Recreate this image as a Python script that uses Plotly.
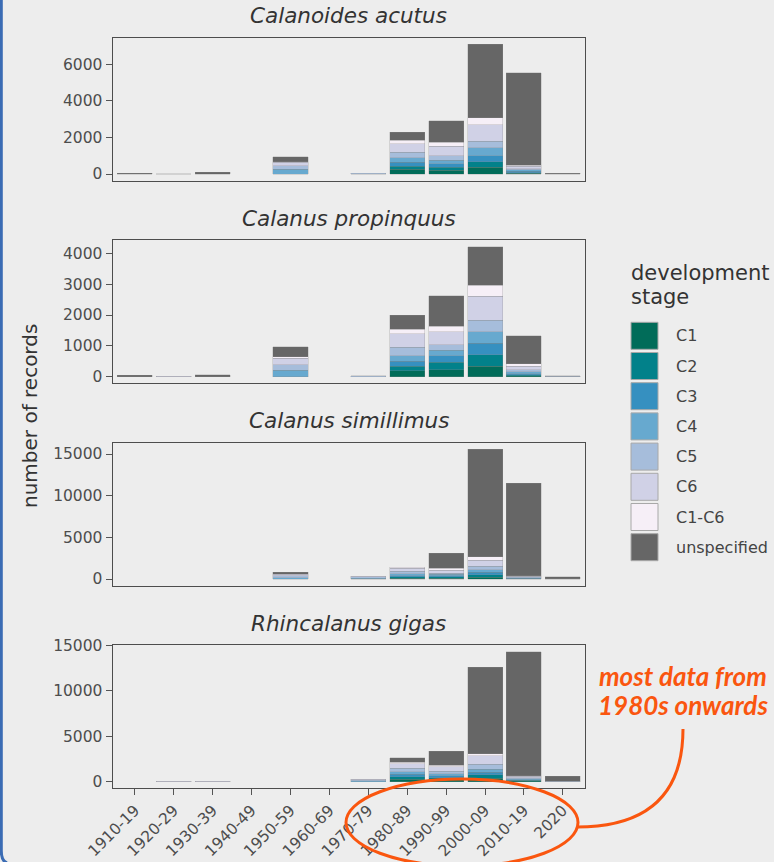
import plotly.graph_objects as go

# ---------------------------------------------------------------
# Records of four Southern Ocean copepods, by decade and stage
# ---------------------------------------------------------------
decades = ["1910-19", "1920-29", "1930-39", "1940-49", "1950-59", "1960-69",
           "1970-79", "1980-89", "1990-99", "2000-09", "2010-19", "2020"]

stages = ["C1", "C2", "C3", "C4", "C5", "C6", "C1-C6", "unspecified"]
stage_colors = ["#016c59", "#02818a", "#3690c0", "#67a9cf",
                "#a6bddb", "#d0d1e6", "#f6eff7", "#666666"]

species = ["Calanoides acutus", "Calanus propinquus",
           "Calanus simillimus", "Rhincalanus gigas"]

# Calanoides acutus
acutus_c1 = [0, 0, 0, 0, 0, 0, 0, 252, 216, 378, 30, 0]
acutus_c2 = [0, 0, 0, 0, 0, 0, 0, 180, 162, 288, 30, 0]
acutus_c3 = [0, 0, 0, 0, 0, 0, 0, 216, 180, 342, 80, 0]
acutus_c4 = [0, 0, 0, 0, 260, 0, 0, 234, 198, 414, 80, 20]
acutus_c5 = [0, 0, 0, 0, 190, 0, 40, 306, 252, 360, 60, 0]
acutus_c6 = [0, 15, 0, 0, 180, 0, 0, 470, 505, 901, 150, 0]
acutus_c1c6 = [0, 0, 0, 0, 40, 0, 0, 180, 216, 396, 50, 0]
acutus_unspec = [40, 0, 90, 0, 280, 0, 0, 450, 1171, 4018, 5045, 20]

# Calanus propinquus
propinquus_c1 = [0, 0, 0, 0, 0, 0, 0, 183, 226, 333, 32, 0]
propinquus_c2 = [0, 0, 0, 0, 0, 0, 0, 150, 237, 376, 22, 0]
propinquus_c3 = [0, 0, 0, 0, 0, 0, 0, 161, 215, 370, 43, 0]
propinquus_c4 = [0, 0, 0, 0, 200, 0, 0, 183, 172, 380, 54, 0]
propinquus_c5 = [0, 0, 0, 0, 180, 0, 20, 280, 183, 376, 75, 10]
propinquus_c6 = [0, 15, 0, 0, 220, 0, 0, 430, 430, 780, 108, 0]
propinquus_c1c6 = [0, 0, 0, 0, 40, 0, 0, 150, 172, 350, 75, 0]
propinquus_unspec = [40, 0, 60, 0, 330, 0, 0, 462, 989, 1265, 925, 10]

# Calanus simillimus
simillimus_c1 = [0, 0, 0, 0, 0, 0, 0, 119, 119, 238, 20, 0]
simillimus_c2 = [0, 0, 0, 0, 0, 0, 0, 159, 159, 278, 20, 0]
simillimus_c3 = [0, 0, 0, 0, 0, 0, 0, 119, 119, 278, 40, 0]
simillimus_c4 = [0, 0, 0, 0, 180, 0, 120, 238, 159, 318, 80, 0]
simillimus_c5 = [0, 0, 0, 0, 200, 0, 150, 278, 159, 397, 100, 20]
simillimus_c6 = [0, 0, 0, 0, 200, 0, 90, 357, 357, 715, 100, 0]
simillimus_c1c6 = [0, 0, 0, 0, 0, 0, 0, 159, 199, 476, 40, 0]
simillimus_unspec = [0, 0, 0, 0, 250, 0, 0, 0, 1826, 12903, 11116, 230]

# Rhincalanus gigas
gigas_c1 = [0, 0, 0, 0, 0, 0, 0, 254, 218, 363, 63, 0]
gigas_c2 = [0, 0, 0, 0, 0, 0, 0, 254, 218, 363, 60, 0]
gigas_c3 = [0, 0, 0, 0, 0, 0, 0, 290, 218, 290, 80, 0]
gigas_c4 = [0, 0, 0, 0, 0, 0, 100, 290, 218, 363, 100, 0]
gigas_c5 = [0, 0, 0, 0, 0, 0, 100, 363, 254, 545, 120, 20]
gigas_c6 = [0, 50, 50, 0, 0, 0, 54, 508, 508, 908, 150, 0]
gigas_c1c6 = [0, 0, 0, 0, 0, 0, 0, 145, 182, 254, 80, 0]
gigas_unspec = [0, 0, 0, 0, 0, 0, 0, 545, 1525, 9547, 13700, 560]

panels = [
    [acutus_c1, acutus_c2, acutus_c3, acutus_c4, acutus_c5, acutus_c6,
     acutus_c1c6, acutus_unspec],
    [propinquus_c1, propinquus_c2, propinquus_c3, propinquus_c4,
     propinquus_c5, propinquus_c6, propinquus_c1c6, propinquus_unspec],
    [simillimus_c1, simillimus_c2, simillimus_c3, simillimus_c4,
     simillimus_c5, simillimus_c6, simillimus_c1c6, simillimus_unspec],
    [gigas_c1, gigas_c2, gigas_c3, gigas_c4, gigas_c5, gigas_c6,
     gigas_c1c6, gigas_unspec],
]
y_ticks = [[0, 2000, 4000, 6000],
           [0, 1000, 2000, 3000, 4000],
           [0, 5000, 10000, 15000],
           [0, 5000, 10000, 15000]]

# ---------------------------------------------------------------
# Layout geometry (pixels in a 774 x 862 canvas)
# ---------------------------------------------------------------
W, H = 774, 862
BG = "#ededed"
ORANGE = "#fa560f"
FONT = "DejaVu Sans"


def px(x):
    return x / W


def py(y):
    return 1 - y / H


box_left, box_right = 112.7, 585.0
box_tops = [37.5, 240.0, 442.5, 645.0]
box_height = 143.0

fig = go.Figure()
layout_axes = {}
annotations = []

for i, (name, series) in enumerate(zip(species, panels)):
    n = i + 1
    xa = "x" if n == 1 else f"x{n}"
    ya = "y" if n == 1 else f"y{n}"
    for stage, color, vals in zip(stages, stage_colors, series):
        fig.add_trace(go.Bar(
            x=decades,
            y=[v if v else None for v in vals],   # empty cells draw nothing
            name=stage, xaxis=xa, yaxis=ya,
            marker=dict(color=color,
                        line=dict(color="rgba(140,140,140,0.55)", width=0.5)),
            showlegend=False,
            hovertemplate=f"{name}<br>%{{x}}<br>{stage}: %{{y}}<extra></extra>",
        ))

    totals = [sum(v) for v in zip(*series)]
    top = max(totals)
    pad = 0.05 * top
    top_px = box_tops[i]
    bottom_px = top_px + box_height
    last = (n == 4)

    layout_axes["xaxis" if n == 1 else f"xaxis{n}"] = dict(
        domain=[px(box_left), px(box_right)],
        anchor=ya,
        automargin=False,
        type="category",
        categoryorder="array", categoryarray=decades,
        range=[-0.57, 11.57],
        showline=True, linecolor="#4d4d4d", linewidth=1.3, mirror=True,
        showgrid=False, zeroline=False,
        ticks="outside" if last else "",
        ticklen=6, tickwidth=1, tickcolor="#555555",
        showticklabels=last,
        tickangle=-45,
        tickfont=dict(family=FONT, size=15.5, color="#4d4d4d"),
    )
    layout_axes["yaxis" if n == 1 else f"yaxis{n}"] = dict(
        domain=[py(bottom_px), py(top_px)],
        anchor=xa,
        automargin=False,
        range=[-pad, top + pad],
        tickvals=y_ticks[i],
        tickformat="d",
        showline=True, linecolor="#4d4d4d", linewidth=1.3, mirror=True,
        showgrid=False, zeroline=False,
        ticks="outside", ticklen=6, tickwidth=1, tickcolor="#555555",
        tickfont=dict(family=FONT, size=15.5, color="#4d4d4d"),
    )

    # facet title
    annotations.append(dict(
        text=f"<i>{name}</i>", xref="paper", yref="paper",
        x=px((box_left + box_right) / 2), y=py(top_px - 22),
        xanchor="center", yanchor="middle", showarrow=False,
        font=dict(family=FONT, size=21.5, color="#333333"),
    ))

# shared y title
annotations.append(dict(
    text="number of records", xref="paper", yref="paper",
    x=px(30), y=py(416), textangle=-90,
    xanchor="center", yanchor="middle", showarrow=False,
    font=dict(family=FONT, size=20, color="#333333"),
))

# legend: title, swatches, labels
shapes = []
annotations.append(dict(
    text="development", xref="paper", yref="paper",
    x=px(629), y=py(273), xanchor="left", yanchor="middle", showarrow=False,
    font=dict(family=FONT, size=21, color="#333333"),
))
annotations.append(dict(
    text="stage", xref="paper", yref="paper",
    x=px(629), y=py(297), xanchor="left", yanchor="middle", showarrow=False,
    font=dict(family=FONT, size=21, color="#333333"),
))
for k, (stage, color) in enumerate(zip(stages, stage_colors)):
    top_y = 322.3 + 30.2 * k
    shapes.append(dict(
        type="rect", xref="paper", yref="paper",
        x0=px(631), x1=px(658), y0=py(top_y + 27), y1=py(top_y),
        fillcolor=color, line=dict(color="#a8a8a8", width=1),
    ))
    annotations.append(dict(
        text=stage, xref="paper", yref="paper",
        x=px(674), y=py(top_y + 13.5), xanchor="left", yanchor="middle",
        showarrow=False,
        font=dict(family=FONT, size=16, color="#444444"),
    ))

# call-out: ellipse round the recent decades, connector and note
shapes.append(dict(
    type="circle", xref="paper", yref="paper",
    x0=px(346), x1=px(578), y0=py(866), y1=py(779),
    line=dict(color=ORANGE, width=3), fillcolor="rgba(0,0,0,0)",
))
shapes.append(dict(
    type="path", xref="paper", yref="paper",
    path=(f"M {px(577)},{py(827)} Q {px(683)},{py(827)} "
          f"{px(683)},{py(729)}"),
    line=dict(color=ORANGE, width=3),
))
for line_text, y_mid in (("most data from", 676), ("1980s onwards", 705)):
    annotations.append(dict(
        text=line_text, xref="paper", yref="paper",
        x=px(683), y=py(y_mid), xanchor="center", yanchor="middle",
        showarrow=False,
        font=dict(family="Lato", size=26, color=ORANGE,
                  weight="bold", style="italic"),
    ))

# card edge on the left
shapes.append(dict(
    type="path", xref="paper", yref="paper",
    path=(f"M {px(1.3)},{py(-2)} L {px(1.3)},{py(851)} "
          f"Q {px(1.3)},{py(861)} {px(7)},{py(863)}"),
    line=dict(color="#3b6cb4", width=3),
))

fig.update_layout(
    width=W, height=H,
    margin=dict(l=0, r=0, t=0, b=0, autoexpand=False),
    paper_bgcolor=BG, plot_bgcolor=BG,
    barmode="stack", bargap=0.1,
    showlegend=False,
    annotations=annotations,
    shapes=shapes,
    font=dict(family=FONT),
    **layout_axes,
)

fig.write_html("out.html")
